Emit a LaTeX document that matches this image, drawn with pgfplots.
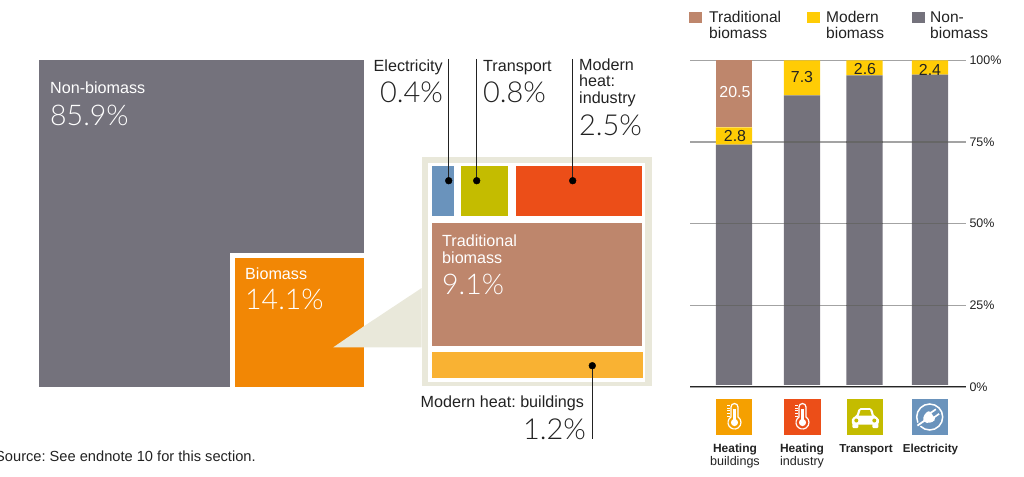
\documentclass[border=0pt]{standalone}
\usepackage{pgfplots}
\pgfplotsset{compat=1.18}
\usepackage{fontspec}
\setmainfont{Liberation Sans}
\newfontfamily\lightf{Lato Light}
\frenchspacing
\definecolor{nonb}{HTML}{74727C}
\definecolor{orangeB}{HTML}{F28705}
\definecolor{beige}{HTML}{E9E8DA}
\definecolor{blueE}{HTML}{6A93BC}
\definecolor{oliveT}{HTML}{C4BC00}
\definecolor{redH}{HTML}{EC4E18}
\definecolor{brownT}{HTML}{BE866C}
\definecolor{amberB}{HTML}{F9B233}
\definecolor{yellowM}{HTML}{FFCC05}
\definecolor{orangeI}{HTML}{F5A000}
\definecolor{txt}{HTML}{222222}
\newcommand{\rect}[5]{\addplot[fill=#1,draw=none] coordinates {(#2,#3)(#4,#3)(#4,#5)(#2,#5)} --cycle;}
\newcommand{\T}[4]{\node[anchor=base west,inner sep=0pt,text=txt] at (axis cs:#1,#2) {\fontsize{#3}{#3}\selectfont #4};}
\newcommand{\W}[4]{\node[anchor=base west,inner sep=0pt,text=white] at (axis cs:#1,#2) {\fontsize{#3}{#3}\selectfont #4};}
\newcommand{\C}[4]{\node[anchor=base,inner sep=0pt,text=txt] at (axis cs:#1,#2) {\fontsize{#3}{#3}\selectfont #4};}
\newcommand{\leader}[4]{\addplot[draw=txt,line width=0.9bp] coordinates {(#1,#2)(#1,#3)};
 \addplot[only marks,mark=*,mark size=3.4bp,mark options={fill=black,draw=none}] coordinates {(#1,#4)};}
\newcommand{\thermo}[3]{\begin{scope}[shift={(axis cs:#1,#2)}]
 \draw[white,line width=1.2bp,fill=#3] (-3.5bp,9bp) -- (-3.5bp,-1.02bp) arc[start angle=122.6,end angle=417.4,radius=6.5bp] -- (3.5bp,9bp) arc[start angle=0,end angle=180,radius=3.5bp] -- cycle;
 \fill[white] (0bp,-6.5bp) circle[radius=3.6bp];
 \fill[white] (-1.2bp,-6.5bp) rectangle (1.2bp,7bp);
 \draw[white,line width=1bp] (-7.5bp,0bp) -- (-4.5bp,0bp);
 \draw[white,line width=1bp] (-7.5bp,2.6bp) -- (-4.5bp,2.6bp);
 \draw[white,line width=1bp] (-7.5bp,5.2bp) -- (-4.5bp,5.2bp);
 \draw[white,line width=1bp] (-7.5bp,7.8bp) -- (-4.5bp,7.8bp);
 \draw[white,line width=1bp] (-7.5bp,10.4bp) -- (-4.5bp,10.4bp);
\end{scope}}
\begin{document}
\begin{tikzpicture}
\useasboundingbox (0,0) rectangle (1024bp,477bp);
\begin{axis}[at={(0,0)},anchor=south west,width=1024bp,height=477bp,scale only axis,
  xmin=0,xmax=1024,ymin=0,ymax=477,y dir=reverse,hide axis,clip=false]
% treemap
\rect{nonb}{39}{60}{364.3}{387.3}
\rect{white}{230.3}{253.3}{364.3}{387.5}
\rect{orangeB}{235.3}{258.3}{364.3}{387.3}
\addplot[fill=beige,draw=none] coordinates {(333.3,347.3)(364.3,326)(421.7,288)(421.7,347.3)} --cycle;
\rect{beige}{421.7}{156.7}{651.7}{386}
\rect{white}{428.3}{162.7}{645.3}{381.7}
\rect{blueE}{432.3}{165.7}{454}{216}
\rect{oliveT}{461.3}{165.7}{508.3}{216}
\rect{redH}{516.3}{165.7}{642.3}{216}
\rect{brownT}{432.3}{222.7}{642.3}{346.3}
\rect{amberB}{432}{351.7}{643}{378}
\leader{448.7}{59}{180.7}{180.7}
\leader{476.7}{59}{180.7}{180.7}
\leader{572.7}{59}{180.7}{180.7}
\leader{592.3}{365.7}{439}{365.7}
% treemap text
\W{50}{93}{16.2}{Non-biomass}
\W{50}{125}{28.6}{\lightf 85.9\%}
\W{245}{279}{16.2}{Biomass}
\W{245}{309}{28.6}{\lightf 14.1\%}
\W{442}{246}{16.2}{Traditional}
\W{442}{263}{16.2}{biomass}
\W{442}{294}{28.6}{\lightf 9.1\%}
\T{373.5}{72}{16.2}{Electricity}
\T{380}{102}{29}{\lightf 0.4\%}
\T{483}{72}{16.2}{Transport}
\T{483}{102}{29}{\lightf 0.8\%}
\T{579}{71}{16.2}{Modern}
\T{579}{87}{16.2}{heat:}
\T{579}{103}{16.2}{industry}
\T{579}{135}{29}{\lightf 2.5\%}
\T{420.5}{407}{16.2}{Modern heat: buildings}
\T{523}{439}{29}{\lightf 1.2\%}
\T{-5}{461}{14.7}{Source: See endnote 10 for this section.}
% legend
\rect{brownT}{689}{12}{702}{23}
\rect{yellowM}{806.7}{12}{820}{23}
\rect{nonb}{911.7}{12}{925}{23}
\T{709}{23}{15.6}{Traditional}
\T{709}{39}{15.6}{biomass}
\T{826}{23}{15.6}{Modern}
\T{826}{39}{15.6}{biomass}
\T{930}{23}{15.6}{Non-}
\T{930}{39}{15.6}{biomass}
% icons
\rect{orangeI}{716}{399}{752.3}{435}
\rect{redH}{784}{399}{820.7}{435}
\rect{oliveT}{847}{399}{883.3}{435}
\rect{blueE}{911.7}{399}{947.7}{435}
\thermo{734.5}{416}{orangeI}
\thermo{802.5}{416}{redH}
\begin{scope}[shift={(axis cs:865.3,417.5)}]
 \fill[white,rounded corners=2bp] (-9bp,1bp) -- (-6.5bp,9.5bp) -- (6.5bp,9.5bp) -- (9bp,1bp) -- (13.5bp,0bp) -- (13.5bp,-7bp) -- (-13.5bp,-7bp) -- (-13.5bp,0bp) -- cycle;
 \fill[oliveT] (-6.5bp,1.8bp) -- (-4.7bp,7.3bp) -- (4.7bp,7.3bp) -- (6.5bp,1.8bp) -- cycle;
 \fill[white,rounded corners=1bp] (-13bp,-10.5bp) rectangle (-7bp,-6bp);
 \fill[white,rounded corners=1bp] (7bp,-10.5bp) rectangle (13bp,-6bp);
 \fill[oliveT] (-9bp,-3bp) circle[radius=2bp];
 \fill[oliveT] (9bp,-3bp) circle[radius=2bp];
\end{scope}
\begin{scope}[shift={(axis cs:929.7,417)}]
 \draw[white,line width=1.5bp] (0bp,0bp) circle[radius=13bp];
 \begin{scope}[rotate=35]
  \draw[blueE,line width=4bp] (-15bp,0bp) -- (-9bp,0bp);
  \draw[white,line width=1.8bp] (-15bp,0bp) -- (-5bp,0bp);
  \fill[white,rounded corners=1.5bp] (-7bp,-2.2bp) -- (-2bp,-5.5bp) -- (3.5bp,-5.5bp) -- (3.5bp,5.5bp) -- (-2bp,5.5bp) -- (-7bp,2.2bp) -- cycle;
  \draw[white,line width=1.7bp] (3bp,-2.8bp) -- (9.5bp,-2.8bp);
  \draw[white,line width=1.7bp] (3bp,2.8bp) -- (9.5bp,2.8bp);
 \end{scope}
\end{scope}
% category labels
\C{735}{452}{12}{\bfseries Heating}
\C{735}{465}{12.6}{buildings}
\C{802}{452}{12}{\bfseries Heating}
\C{802}{465}{12.6}{industry}
\C{866}{452}{11.6}{\bfseries Transport}
\C{930.5}{452}{11.6}{\bfseries Electricity}
\end{axis}
% stacked bars on a pixel-wide x scale
\begin{axis}[at={(690bp,90bp)},anchor=south west,width=276bp,height=326.7bp,scale only axis,
  xmin=690,xmax=966,ymin=0,ymax=100,
  ybar stacked,bar width=36.4,bar shift=0pt,
  axis line style={draw=none},major tick style={draw=none},xtick=\empty,
  ytick={0,25,50,75,100},yticklabel pos=right,
  yticklabel={\pgfmathprintnumber{\tick}\%},
  /pgf/number format/assume math mode=true,
  yticklabel style={font=\fontsize{12.5}{12.5}\selectfont,text=txt},
  ymajorgrids,grid style={color=black!36,line width=1.1bp},
  clip=false]
\addplot[fill=nonb,draw=none] coordinates {(734,74.2)(802,89.3)(864.5,95.4)(930,95.6)};
\addplot[fill=yellowM,draw=none] coordinates {(734,5.3)(802,10.7)(864.5,4.6)(930,4.4)};
\addplot[fill=brownT,draw=none] coordinates {(734,20.5)(802,0)(864.5,0)(930,0)};
\end{axis}
% base line, gridlines seen through the grey and value labels
\begin{axis}[at={(690bp,90bp)},anchor=south west,width=276bp,height=326.7bp,scale only axis,
  xmin=690,xmax=966,ymin=0,ymax=100,hide axis,clip=false,unbounded coords=jump]
\addplot[fill=white,draw=none] coordinates {(690,0)(966,0)(966,0.5)(690,0.5)} --cycle;
\addplot[draw=black!85,line width=1bp] coordinates {(690,0)(966,0)};
\addplot[draw=black!60,line width=1.1bp] coordinates {(715.8,25)(752.2,25)(nan,nan)(783.8,25)(820.2,25)(nan,nan)(846.3,25)(882.7,25)(nan,nan)(911.8,25)(948.2,25)};
\addplot[draw=black!60,line width=1.1bp] coordinates {(715.8,50)(752.2,50)(nan,nan)(783.8,50)(820.2,50)(nan,nan)(846.3,50)(882.7,50)(nan,nan)(911.8,50)(948.2,50)};
\addplot[draw=black!60,line width=1.1bp] coordinates {(783.8,75)(820.2,75)(nan,nan)(846.3,75)(882.7,75)(nan,nan)(911.8,75)(948.2,75)};
\node[text=white,inner sep=0pt,font=\fontsize{16}{16}\selectfont] at (axis cs:735,90.3) {20.5};
\node[text=txt,inner sep=0pt,font=\fontsize{16}{16}\selectfont] at (axis cs:735,76.8) {2.8};
\node[text=txt,inner sep=0pt,font=\fontsize{16}{16}\selectfont] at (axis cs:802,95) {7.3};
\node[text=txt,inner sep=0pt,font=\fontsize{16}{16}\selectfont] at (axis cs:865,97.2) {2.6};
\node[text=txt,inner sep=0pt,font=\fontsize{16}{16}\selectfont] at (axis cs:930,97.2) {2.4};
\end{axis}
\end{tikzpicture}
\end{document}
